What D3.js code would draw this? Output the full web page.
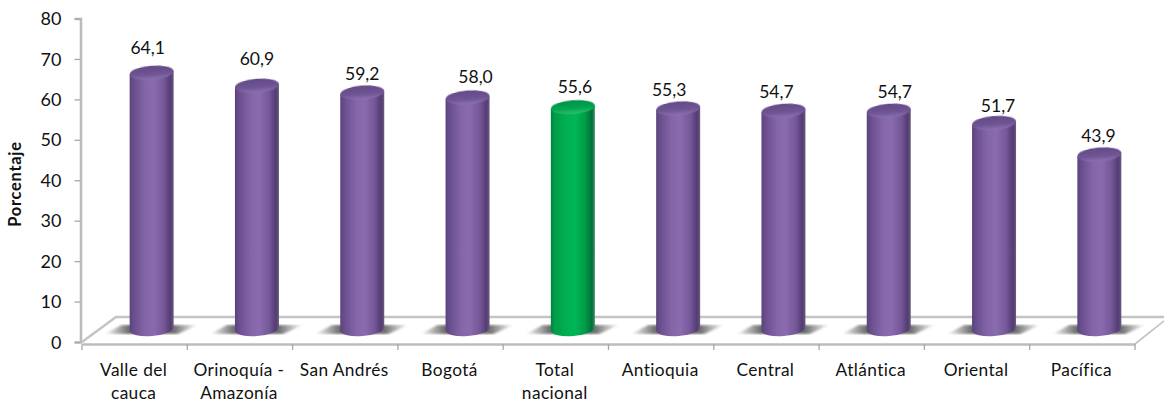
<!DOCTYPE html>
<html><head><meta charset="utf-8">
<script src="https://cdn.jsdelivr.net/npm/d3@7"></script>
<style>html,body{margin:0;background:#fff}svg{display:block}text{font-family:Lato,"Open Sans",sans-serif;fill:#111}</style>
</head><body><div id="c"></div>
<script>
const categories = [["Valle del","cauca"],["Orinoquía -","Amazonía"],["San Andrés"],["Bogotá"],["Total","nacional"],["Antioquia"],["Central"],["Atlántica"],["Oriental"],["Pacífica"]];
const values = [64.1,60.9,59.2,58.0,55.6,55.3,54.7,54.7,51.7,43.9];
const valueLabels = ["64,1","60,9","59,2","58,0","55,6","55,3","54,7","54,7","51,7","43,9"];
const highlight = "Total";
const yTicks = [0,10,20,30,40,50,60,70,80];
const yTitle = "Porcentaje";
// hand-placed label nudges (layout only)
const labelDx = [-4,0,0,8,2,-9,-7,6,4,-1];
const labelDy = [-4.4,-6.4,1.7,-.4,0,1.6,1.2,1.2,3,1.5];

const W=1164,H=403,m={l:82,r:1135,t:18.5,b:342};
const svg=d3.select("#c").append("svg").attr("width",W).attr("height",H);
const x=d3.scaleBand().domain(d3.range(values.length)).range([m.l,m.r]);
const y=d3.scaleLinear().domain([0,80]).range([m.b,m.t]);
const defs=svg.append("defs");
function grad(id,stops,vertical){const g=defs.append("linearGradient").attr("id",id);
  if(vertical) g.attr("x1",0).attr("x2",0).attr("y1",0).attr("y2",1);
  stops.forEach(([o,c])=>g.append("stop").attr("offset",o).attr("stop-color",c));}
grad("purple",[[0,"#5a4279"],[.08,"#684d8c"],[.35,"#8465a8"],[.55,"#8a6bae"],[.78,"#755798"],[.93,"#533c72"],[1,"#6a5a80"]]);
grad("green",[[0,"#068040"],[.08,"#059c4a"],[.35,"#00b050"],[.55,"#03b655"],[.78,"#029c47"],[.93,"#04703a"],[1,"#3c8a60"]]);
grad("purpleTop",[[0,"#644a86"],[.6,"#6f5494"],[1,"#8c72b0"]],true);
grad("greenTop",[[0,"#049048"],[.6,"#06a551"],[1,"#2cc073"]],true);
const sh=defs.append("linearGradient").attr("id","shadow");
[[0,0],[.26,.85],[.74,.85],[1,0]].forEach(([o,a])=>sh.append("stop").attr("offset",o).attr("stop-color","#555").attr("stop-opacity",a));
defs.append("filter").attr("id","soft").append("feGaussianBlur").attr("stdDeviation",.9);
defs.append("filter").attr("id","edge").append("feGaussianBlur").attr("stdDeviation",.35);

// floor, derived from the axis range
const depthX=34, depthY=25, back=m.b-depthY, front=m.b+2;
const line=d3.line();
svg.append("path").attr("d",line([[m.l,m.b],[m.l+depthX,back],[W,back]])).attr("fill","none").attr("stroke","#c4c4c4").attr("stroke-width",2.4);
svg.append("path").attr("d",line([[m.r,front],[W,back+4]])).attr("fill","none").attr("stroke","#c4c4c4").attr("stroke-width",1.6);

// y axis
const ya=svg.append("g").attr("transform",`translate(${m.l-1.5},0)`).call(d3.axisLeft(y).tickValues(yTicks).tickSize(6).tickPadding(13).tickFormat(d3.format("d")));
ya.select(".domain").attr("stroke","#bcbcbc").attr("stroke-width",2.6);
ya.selectAll(".tick line").attr("stroke","#a8a8a8").attr("stroke-width",1.3);
ya.selectAll("text").attr("font-size",18).style("fill","#111").attr("dy","0.34em");

// x axis
const xa=svg.append("g").attr("transform",`translate(0,${front})`).call(d3.axisBottom(x).tickSize(0).tickFormat(""));
xa.select(".domain").attr("stroke","#bcbcbc").attr("stroke-width",2.4);
svg.append("g").selectAll("line").data(d3.range(values.length+1)).join("line")
  .attr("x1",i=>i<values.length?x(i):m.r).attr("x2",i=>i<values.length?x(i):m.r)
  .attr("y1",front).attr("y2",front+6).attr("stroke","#a8a8a8").attr("stroke-width",1.3);

// category labels
const cat=svg.append("g").selectAll("text").data(categories).join("text")
  .attr("text-anchor","middle").attr("font-size",17.3).attr("letter-spacing",".4px")
  .attr("x",(d,i)=>x(i)+x.bandwidth()/2-1);
cat.selectAll("tspan").data(d=>d).join("tspan")
  .attr("x",function(){return d3.select(this.parentNode).attr("x")})
  .attr("y",(d,i)=>376+i*23).text(d=>d);

svg.append("text").attr("transform","translate(21,184) rotate(-90)").attr("text-anchor","middle")
  .attr("font-size",16.5).attr("font-weight",700).attr("letter-spacing",".7px").text(yTitle);

// bars
const bw=44, rx=bw/2, ry=7, tilt=-4.5, lift=10, baseLift=13, shift=17;
const cx=i=>x(i)+x.bandwidth()/2+shift;
const isHi=i=>categories[i][0]===highlight;
const bars=svg.append("g").selectAll("g").data(values).join("g");
bars.append("path").attr("d",(d,i)=>{const c=cx(i);
  return line([[c-47,334],[c-30,325],[c+46,325],[c+26,334]])+"Z";})
  .attr("fill","url(#shadow)").attr("filter","url(#soft)");
bars.append("path").attr("d",(d,i)=>{
  const c=cx(i),t=y(d)-lift,b=y(0)-baseLift;
  return `M${c-rx},${t+1.7} L${c-rx},${b+1.7} A${rx},${ry} ${tilt} 0 0 ${c+rx},${b-1.7} L${c+rx},${t-1.7} Z`;
}).attr("fill",(d,i)=>isHi(i)?"url(#green)":"url(#purple)").attr("filter","url(#edge)");
bars.append("ellipse").attr("cx",(d,i)=>cx(i)).attr("cy",d=>y(d)-lift).attr("rx",rx).attr("ry",ry)
  .attr("transform",(d,i)=>`rotate(${tilt} ${cx(i)} ${y(d)-lift})`)
  .attr("fill",(d,i)=>isHi(i)?"url(#greenTop)":"url(#purpleTop)").attr("filter","url(#edge)");

// value labels
svg.append("g").selectAll("text").data(values).join("text")
  .attr("text-anchor","middle").attr("font-size",17.5)
  .attr("x",(d,i)=>cx(i)+labelDx[i]).attr("y",(d,i)=>y(d)-lift-14+labelDy[i]).text((d,i)=>valueLabels[i]);
</script></body></html>
